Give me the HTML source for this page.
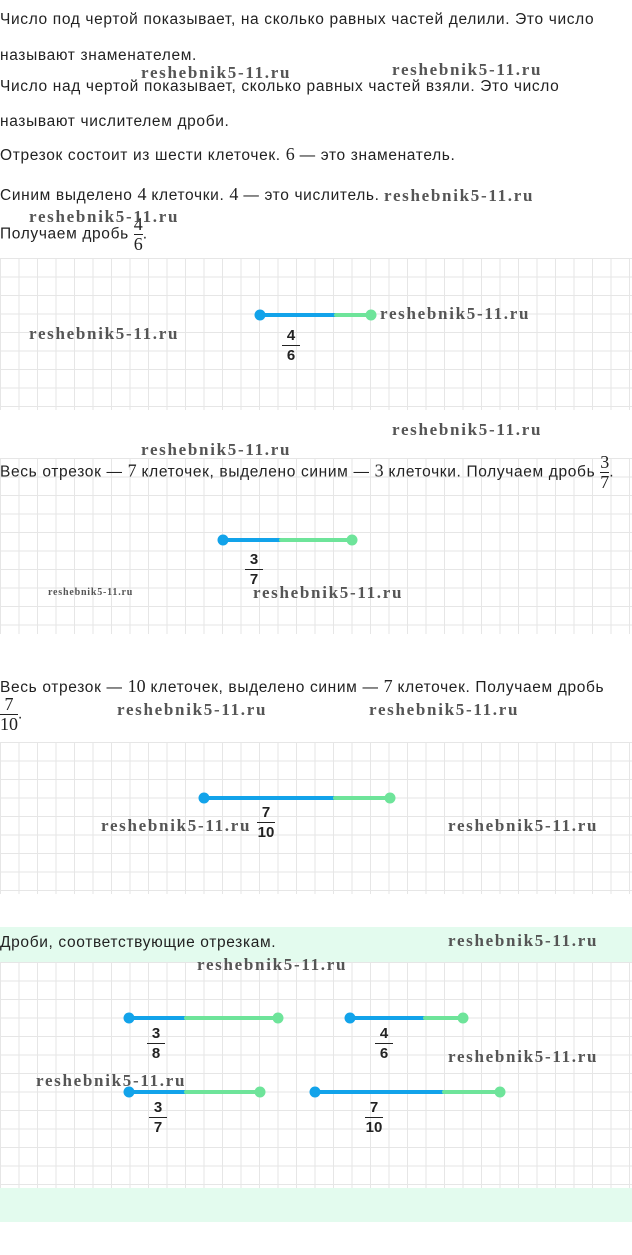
<!DOCTYPE html><html><head><meta charset="utf-8"><style>
body{margin:0;width:632px;height:1255px;position:relative;background:#fff;font-family:"Liberation Sans",sans-serif;color:#222;overflow:hidden}
.t{position:absolute;left:0;font-size:15.5px;letter-spacing:0.65px;white-space:nowrap}
.m{font-family:"Liberation Serif",serif;font-size:18px;letter-spacing:0}
.g{position:absolute;left:0;width:632px;background-image:linear-gradient(#e6e6e6 1px,transparent 1px),linear-gradient(90deg,#e6e6e6 1px,transparent 1px);background-size:18.5px 18.5px}
.w{position:absolute;font-family:"Liberation Serif",serif;font-weight:bold;font-size:17px;letter-spacing:1.7px;color:#555;white-space:nowrap}
.f{position:absolute;font-size:15px;font-weight:bold;text-align:center;line-height:17px;width:24px}
.f span{display:block;border-top:1.5px solid #222;margin:1px 3px}
.fr{display:inline-block;vertical-align:middle;text-align:center;font-family:"Liberation Serif",serif;font-size:18px;line-height:19px;letter-spacing:0}
.fr span{display:block;border-top:1px solid #222}
</style></head><body>
<div class="t" style="top:11px">Число под чертой показывает, на сколько равных частей делили. Это число</div>
<div class="t" style="top:47px">называют знаменателем.</div>
<div class="t" style="top:78px">Число над чертой показывает, сколько равных частей взяли. Это число</div>
<div class="t" style="top:113px">называют числителем дроби.</div>
<div class="t" style="top:144px">Отрезок состоит из шести клеточек. <span class="m">6</span> — это знаменатель.</div>
<div class="t" style="top:184px">Синим выделено <span class="m">4</span> клеточки. <span class="m">4</span> — это числитель.</div>
<div class="t" style="top:215px">Получаем дробь <span class="fr">4<span>6</span></span>.</div>

<div class="g" style="top:258px;height:152px"></div>
<div class="g" style="top:458px;height:176px"></div>
<div class="t" style="top:453px">Весь отрезок — <span class="m">7</span> клеточек, выделено синим — <span class="m">3</span> клеточки. Получаем дробь <span class="fr">3<span>7</span></span>.</div>
<div class="t" style="top:676px">Весь отрезок — <span class="m">10</span> клеточек, выделено синим — <span class="m">7</span> клеточек. Получаем дробь</div>
<div class="t" style="top:695px"><span class="fr">7<span>10</span></span>.</div>
<div class="g" style="top:742px;height:152px"></div>

<div style="position:absolute;top:927px;left:0;width:632px;height:295px;background:#e3fbee"></div>
<div class="g" style="top:962px;height:226px;background-color:#fff"></div>
<div class="t" style="top:934px">Дроби, соответствующие отрезкам.</div>

<svg style="position:absolute;left:0;top:0" width="632" height="1255">
<g stroke-width="4" stroke-linecap="round">
<line x1="260" y1="315" x2="336" y2="315" stroke="#12a3ea"/><line x1="336" y1="315" x2="371" y2="315" stroke="#6ee49a"/>
<line x1="223" y1="540" x2="281" y2="540" stroke="#12a3ea"/><line x1="281" y1="540" x2="352" y2="540" stroke="#6ee49a"/>
<line x1="204" y1="798" x2="335" y2="798" stroke="#12a3ea"/><line x1="335" y1="798" x2="390" y2="798" stroke="#6ee49a"/>
<line x1="129" y1="1018" x2="186" y2="1018" stroke="#12a3ea"/><line x1="186" y1="1018" x2="278" y2="1018" stroke="#6ee49a"/>
<line x1="350" y1="1018" x2="425" y2="1018" stroke="#12a3ea"/><line x1="425" y1="1018" x2="463" y2="1018" stroke="#6ee49a"/>
<line x1="129" y1="1092" x2="186" y2="1092" stroke="#12a3ea"/><line x1="186" y1="1092" x2="260" y2="1092" stroke="#6ee49a"/>
<line x1="315" y1="1092" x2="444" y2="1092" stroke="#12a3ea"/><line x1="444" y1="1092" x2="500" y2="1092" stroke="#6ee49a"/>
</g>
<g fill="#12a3ea"><circle cx="260" cy="315" r="5.5"/><circle cx="223" cy="540" r="5.5"/><circle cx="204" cy="798" r="5.5"/><circle cx="129" cy="1018" r="5.5"/><circle cx="350" cy="1018" r="5.5"/><circle cx="129" cy="1092" r="5.5"/><circle cx="315" cy="1092" r="5.5"/></g>
<g fill="#6ee49a"><circle cx="371" cy="315" r="5.5"/><circle cx="352" cy="540" r="5.5"/><circle cx="390" cy="798" r="5.5"/><circle cx="278" cy="1018" r="5.5"/><circle cx="463" cy="1018" r="5.5"/><circle cx="260" cy="1092" r="5.5"/><circle cx="500" cy="1092" r="5.5"/></g>
</svg>

<div class="f" style="left:279px;top:327px">4<span></span>6</div>
<div class="f" style="left:242px;top:551px">3<span></span>7</div>
<div class="f" style="left:254px;top:804px">7<span></span>10</div>
<div class="f" style="left:144px;top:1025px">3<span></span>8</div>
<div class="f" style="left:372px;top:1025px">4<span></span>6</div>
<div class="f" style="left:146px;top:1099px">3<span></span>7</div>
<div class="f" style="left:362px;top:1099px">7<span></span>10</div>

<div class="w" style="left:141px;top:63px">reshebnik5-11.ru</div>
<div class="w" style="left:392px;top:60px">reshebnik5-11.ru</div>
<div class="w" style="left:384px;top:186px">reshebnik5-11.ru</div>
<div class="w" style="left:29px;top:207px">reshebnik5-11.ru</div>
<div class="w" style="left:380px;top:304px">reshebnik5-11.ru</div>
<div class="w" style="left:29px;top:324px">reshebnik5-11.ru</div>
<div class="w" style="left:392px;top:420px">reshebnik5-11.ru</div>
<div class="w" style="left:141px;top:440px">reshebnik5-11.ru</div>
<div class="w" style="left:48px;top:587px;font-size:10px;letter-spacing:0.8px">reshebnik5-11.ru</div>
<div class="w" style="left:253px;top:583px">reshebnik5-11.ru</div>
<div class="w" style="left:117px;top:700px">reshebnik5-11.ru</div>
<div class="w" style="left:369px;top:700px">reshebnik5-11.ru</div>
<div class="w" style="left:101px;top:816px">reshebnik5-11.ru</div>
<div class="w" style="left:448px;top:816px">reshebnik5-11.ru</div>
<div class="w" style="left:448px;top:931px">reshebnik5-11.ru</div>
<div class="w" style="left:197px;top:955px">reshebnik5-11.ru</div>
<div class="w" style="left:448px;top:1047px">reshebnik5-11.ru</div>
<div class="w" style="left:36px;top:1071px">reshebnik5-11.ru</div>
</body></html>
